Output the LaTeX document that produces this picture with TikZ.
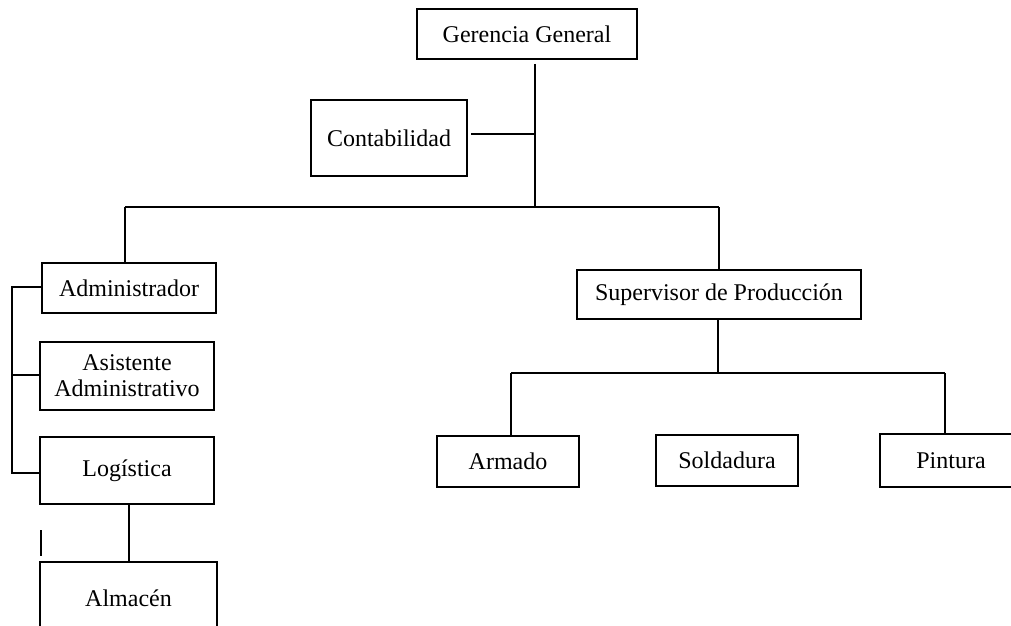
\documentclass[tikz,border=0pt]{standalone}
\usepackage{fontspec}
\setmainfont{Liberation Serif}
\begin{document}
\begin{tikzpicture}[x=1pt,y=-1pt,
  box/.style={draw,line width=1.5pt,inner sep=0pt,align=center,
    font=\fontsize{24}{26}\selectfont},
  conn/.style={line width=1.5pt}]
\useasboundingbox (0,0) rectangle (1011,625);
\clip (0,0) rectangle (1011,625);
% boxes
\node[box,minimum width=220pt,minimum height=50pt] (gg) at (527,34) {Gerencia General};
\node[box,minimum width=156pt,minimum height=76pt] (cont) at (389,138) {Contabilidad};
\node[box,minimum width=174pt,minimum height=50pt] (adm) at (129,288) {Administrador};
\node[box,minimum width=174pt,minimum height=68pt] (asis) at (127,376) {Asistente\\Administrativo};
\node[box,minimum width=174pt,minimum height=67pt] (log) at (127,470.5) {Log\'istica};
\node[box,minimum width=177pt,minimum height=72pt] (alm) at (128.5,598) {Almac\'en};
\node[box,minimum width=284pt,minimum height=49pt] (sup) at (719,294.5) {Supervisor de Producci\'on};
\node[box,minimum width=142pt,minimum height=51pt] (arm) at (508,461.5) {Armado};
\node[box,minimum width=142pt,minimum height=51pt] (sol) at (727,460.5) {Soldadura};
\node[box,minimum width=142pt,minimum height=53pt] (pin) at (951,460.5) {Pintura};
% junctions
\coordinate (j1) at (535,207);
\coordinate (jl) at (125,207);
\coordinate (jr) at (719,207);
\coordinate (jc) at (535,134);
\coordinate (cs) at (471,134);
\coordinate (b1) at (12,287);
\coordinate (b2) at (12,375);
\coordinate (b3) at (12,473);
\coordinate (sj) at (718,373);
\coordinate (sl) at (511,373);
\coordinate (sr) at (945,373);
\coordinate (st1) at (41,530);
\coordinate (st2) at (41,556);
% connectors
\draw[conn] ([yshift=-4pt]gg.south -| j1) -- (j1);
\draw[conn] (cs) -- (jc);
\draw[conn] (jl) -- (jr);
\draw[conn] (jl) -- (adm.north -| jl);
\draw[conn] (adm.west |- b1) -- (b1) -- (b3) -- (log.west |- b3);
\draw[conn] (b2) -- (asis.west |- b2);
\draw[conn] (log.south -| 129,0) -- (alm.north -| 129,0);
\draw[conn] (st1) -- (st2);
\draw[conn] (jr) -- (sup.north -| jr);
\draw[conn] (sup.south -| sj) -- (sj);
\draw[conn] (sl) -- (sr);
\draw[conn] (sl) -- (arm.north -| sl);
\draw[conn] (sr) -- (pin.north -| sr);
\end{tikzpicture}
\end{document}
